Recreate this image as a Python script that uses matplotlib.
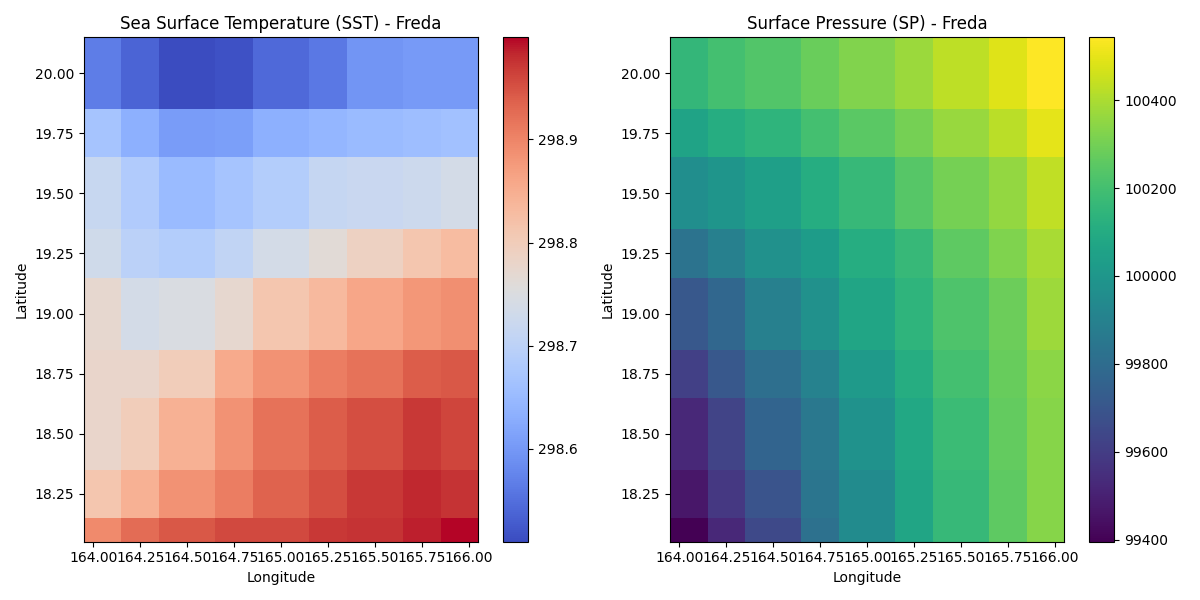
import matplotlib
matplotlib.use('Agg')
import matplotlib.pyplot as plt
import numpy as np

# cell edges of the grid
lon_edges = [163.95, 164.15, 164.35, 164.65, 164.85, 165.15, 165.35, 165.65, 165.85, 166.05]
lat_edges = [20.15, 19.85, 19.65, 19.35, 19.15, 18.85, 18.65, 18.35, 18.15, 18.05]

# rows run north to south
sst = [
    [298.567, 298.538, 298.510, 298.516, 298.543, 298.560, 298.595, 298.602, 298.602],
    [298.668, 298.633, 298.604, 298.609, 298.633, 298.642, 298.651, 298.656, 298.661],
    [298.717, 298.682, 298.651, 298.667, 298.687, 298.713, 298.719, 298.725, 298.737],
    [298.731, 298.698, 298.687, 298.707, 298.737, 298.763, 298.790, 298.812, 298.829],
    [298.773, 298.737, 298.747, 298.773, 298.812, 298.834, 298.860, 298.880, 298.890],
    [298.778, 298.778, 298.800, 298.855, 298.885, 298.908, 298.920, 298.940, 298.945],
    [298.778, 298.800, 298.845, 298.885, 298.920, 298.940, 298.955, 298.972, 298.962],
    [298.812, 298.845, 298.885, 298.908, 298.935, 298.955, 298.972, 298.982, 298.976],
    [298.895, 298.925, 298.945, 298.958, 298.958, 298.972, 298.976, 298.986, 298.999],
]

sp = [
    [100153, 100199, 100233, 100279, 100325, 100371, 100428, 100486, 100543],
    [100061, 100107, 100141, 100199, 100250, 100302, 100365, 100422, 100497],
    [99958, 99992, 100038, 100107, 100164, 100239, 100302, 100359, 100434],
    [99831, 99889, 99969, 100026, 100107, 100164, 100256, 100319, 100395],
    [99705, 99774, 99889, 99969, 100072, 100141, 100222, 100285, 100375],
    [99613, 99705, 99808, 99900, 100015, 100107, 100199, 100275, 100345],
    [99521, 99625, 99762, 99854, 99980, 100084, 100176, 100265, 100335],
    [99464, 99579, 99693, 99843, 99946, 100072, 100164, 100258, 100335],
    [99395, 99525, 99648, 99820, 99946, 100072, 100164, 100258, 100335],
]

fig, axes = plt.subplots(1, 2, figsize=(12, 6))

# SST panel
mesh = axes[0].pcolormesh(lon_edges, lat_edges, np.array(sst), cmap='coolwarm')
fig.colorbar(mesh, ax=axes[0])
axes[0].set_title('Sea Surface Temperature (SST) - Freda')
axes[0].set_xlabel('Longitude')
axes[0].set_ylabel('Latitude')

# SP panel
mesh = axes[1].pcolormesh(lon_edges, lat_edges, np.array(sp), cmap='viridis')
fig.colorbar(mesh, ax=axes[1])
axes[1].set_title('Surface Pressure (SP) - Freda')
axes[1].set_xlabel('Longitude')
axes[1].set_ylabel('Latitude')

plt.tight_layout()
plt.savefig('out.png', dpi=100)
